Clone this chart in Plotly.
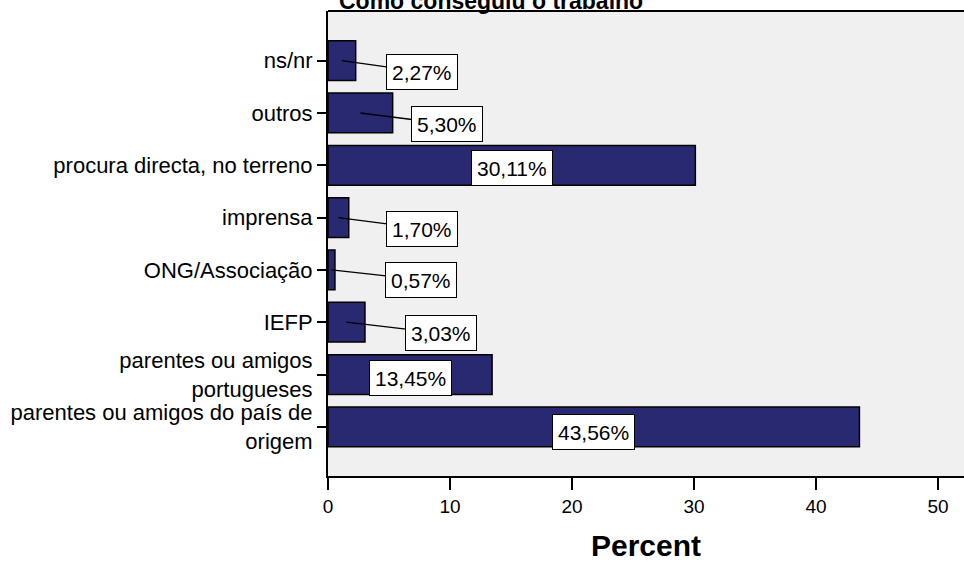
import plotly.graph_objects as go

# Data (top to bottom as shown)
categories = ["ns/nr", "outros", "procura directa, no terreno", "imprensa",
              "ONG/Associação", "IEFP", "parentes ou amigos<br>portugueses",
              "parentes ou amigos do país de<br>origem"]
percents = [2.27, 5.30, 30.11, 1.70, 0.57, 3.03, 13.45, 43.56]
label_texts = ["2,27%", "5,30%", "30,11%", "1,70%", "0,57%", "3,03%", "13,45%", "43,56%"]
x_ticks = [0, 10, 20, 30, 40, 50]

# label placement (pixel offsets of box from bar centre; None = inside bar)
label_dx = [80, 87, None, 84, 90, 95, None, None]
label_dy = [11, 11, 3, 11, 10, 11, 3, 5]

cats_b2t = categories[::-1]
vals_b2t = percents[::-1]

FONT = "Arial, Liberation Sans, sans-serif"
NAVY = "rgb(41,41,114)"

fig = go.Figure(go.Bar(
    y=cats_b2t, x=vals_b2t, orientation="h", width=0.76,
    marker=dict(color=NAVY, line=dict(color="black", width=1.5)),
    hoverinfo="skip",
))

annotations = []
for cat, v, t, dx, dy in zip(categories, percents, label_texts, label_dx, label_dy):
    common = dict(
        x=v / 2, y=cat, xref="x", yref="y", text=t,
        font=dict(family=FONT, size=21, color="black"),
        bgcolor="white", bordercolor="black", borderwidth=1, borderpad=5,
        height=24, align="center", valign="middle",
    )
    if dx is None:
        annotations.append(dict(showarrow=False, yshift=-dy, **common))
    else:
        annotations.append(dict(showarrow=True, arrowhead=0, arrowwidth=1.3,
                                arrowcolor="black", ax=dx, ay=dy, standoff=0,
                                **common))

annotations.append(dict(
    text="<b>Como conseguiu o trabalho</b>", xref="paper", yref="paper",
    x=(491 - 328) / 636, y=1, xanchor="center", yanchor="bottom", yshift=-5,
    showarrow=False, font=dict(family=FONT, size=23, color="black"),
))

fig.update_layout(
    width=964, height=562,
    margin=dict(l=328, r=0, t=11, b=86),
    paper_bgcolor="white", plot_bgcolor="rgb(240,240,240)",
    showlegend=False,
    annotations=annotations,
    shapes=[dict(type="line", xref="paper", yref="paper", x0=0, x1=1, y0=1, y1=1,
                 line=dict(color="black", width=2))],
    xaxis=dict(
        range=[0, 636 / 12.2], tickvals=x_ticks, ticktext=[str(t) for t in x_ticks],
        showgrid=False, zeroline=False, showline=True, linecolor="black", linewidth=2,
        ticks="outside", ticklen=12, tickwidth=2, tickcolor="black",
        tickfont=dict(family=FONT, size=19, color="black"),
        title=dict(text="<b>Percent</b>", font=dict(family=FONT, size=30, color="black"),
                   standoff=21),
    ),
    yaxis=dict(
        range=[-0.94, 7.95], showgrid=False, zeroline=False,
        showline=True, linecolor="black", linewidth=2,
        ticks="outside", ticklen=9, tickwidth=2, tickcolor="black",
        tickfont=dict(family=FONT, size=22, color="black"),
        categoryorder="array", categoryarray=cats_b2t,
    ),
)

fig.write_html("out.html", config={"displayModeBar": False},
               post_script="document.body.style.margin='0';document.body.style.overflow='hidden';")
